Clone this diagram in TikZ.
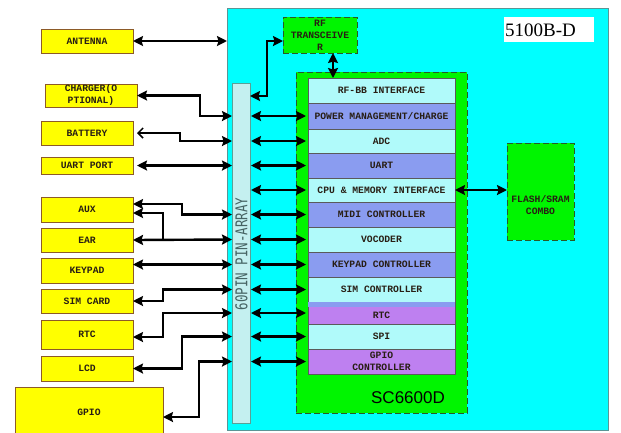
\documentclass[tikz,border=0pt]{standalone}
\usepackage{fontspec}
\setmainfont{Liberation Serif}
\newfontfamily\labfont{Liberation Mono}
\newfontfamily\pinfont{DejaVu Sans Mono}
\newfontfamily\scfont{Liberation Sans}
\usetikzlibrary{arrows.meta}
\definecolor{cyanbg}{RGB}{0,255,255}
\definecolor{cyanbd}{RGB}{90,150,150}
\definecolor{grn}{RGB}{0,245,0}
\definecolor{grnbd}{RGB}{40,90,40}
\definecolor{yel}{RGB}{255,255,0}
\definecolor{ybd}{RGB}{140,90,40}
\definecolor{ltc}{RGB}{176,250,250}
\definecolor{blu}{RGB}{138,156,240}
\definecolor{pur}{RGB}{190,128,240}
\definecolor{pinc}{RGB}{196,240,240}
\definecolor{pinbd}{RGB}{90,160,150}
\definecolor{rowbd}{RGB}{90,90,90}
\definecolor{txt}{RGB}{40,30,20}
\definecolor{pintxt}{RGB}{70,100,100}
\tikzset{
  lab/.style={font=\labfont\bfseries\fontsize{9.7}{12}\selectfont, text=txt, align=center},
  ybox/.style={lab, draw=ybd, fill=yel, line width=0.8pt, inner sep=0pt, outer sep=0pt},
  rowbox/.style={lab, draw=rowbd, line width=0.8pt, inner sep=0pt, outer sep=0pt, minimum width=147pt},
  gbox/.style={draw=grnbd, fill=grn, dashed, dash pattern=on 6pt off 3pt, line width=0.8pt, inner sep=0pt, outer sep=0pt},
  tipA/.tip={Stealth[length=10pt,width=10pt,inset=1.5pt]},
  arr/.style={line width=2.4pt, tipA-tipA},
  arrL/.style={line width=2.4pt, tipA-},
  arrB/.style={line width=2.4pt, {Straight Barb[length=5pt,width=10pt,line width=1.5pt]}-tipA}
}
\begin{document}
\begin{tikzpicture}[x=1pt,y=-1pt]
\useasboundingbox (0,0) rectangle (621,432);
\fill[white] (0,0) rectangle (621,432);
% main board
\node[draw=cyanbd, fill=cyanbg, line width=0.8pt, inner sep=0pt, outer sep=0pt, minimum width=381pt, minimum height=422pt] (board) at (417.5,219) {};
% pin array
\node[draw=pinbd, fill=pinc, line width=0.8pt, inner sep=0pt, outer sep=0pt, minimum width=18pt, minimum height=340pt] (pin) at (241,253) {};
\node[rotate=90, text=pintxt, font=\pinfont\fontsize{12.5}{14}\selectfont, inner sep=0pt] (pintext) at (241.5,254) {\scalebox{1}[1.3]{60PIN PIN-ARRAY}};
% SC6600D
\node[gbox, minimum width=171pt, minimum height=341pt] (sc) at (381.5,242.5) {};
\node[font=\scfont\fontsize{17}{20}\selectfont, inner sep=0pt] (sclabel) at (408,398) {SC6600D};
% rows
\node[rowbox, fill=ltc, minimum height=25pt] (rfbb) at (381.5,90.5) {RF-BB INTERFACE};
\node[rowbox, fill=blu, minimum height=26pt] (pwr) at (381.5,116) {POWER MANAGEMENT/CHARGE};
\node[rowbox, fill=ltc, minimum height=24pt] (adc) at (381.5,141) {ADC};
\node[rowbox, fill=blu, minimum height=25pt] (uart) at (381.5,165.5) {UART};
\node[rowbox, fill=ltc, minimum height=24pt] (cpu) at (381.5,190) {CPU \& MEMORY INTERFACE};
\node[rowbox, fill=blu, minimum height=25pt] (midi) at (381.5,214.5) {MIDI CONTROLLER};
\node[rowbox, fill=ltc, minimum height=25pt] (voc) at (381.5,239.5) {VOCODER};
\node[rowbox, fill=blu, minimum height=25pt] (keyc) at (381.5,264.5) {KEYPAD CONTROLLER};
\node[rowbox, fill=ltc, minimum height=25pt] (simc) at (381.5,289.5) {SIM CONTROLLER};
\node[rowbox, fill=pur, minimum height=22pt] (rtcc) at (381.5,313) {};
\fill[blu] ([xshift=0.4pt,yshift=-0.4pt]rtcc.north west) rectangle ([xshift=-0.4pt,yshift=-4.5pt]rtcc.north east);
\node[lab, inner sep=0pt] (rtct) at (381.5,315) {RTC};
\node[rowbox, fill=ltc, minimum height=25pt] (spi) at (381.5,336.5) {\raisebox{-3pt}{SPI}};
\node[rowbox, fill=pur, minimum height=25pt] (gpioc) at (381.5,361.5) {GPIO\\CONTROLLER};
% RF transceiver
\node[gbox, lab, minimum width=74pt, minimum height=36pt] (rf) at (320,35) {RF\\TRANSCEIVE\\R};
% flash
\node[gbox, lab, minimum width=67pt, minimum height=97pt, text height=46pt] (flash) at (540.5,191.5) {FLASH/SRAM\\COMBO};
% 5100B-D
\node[fill=white, inner sep=0pt, outer sep=0pt, minimum width=90pt, minimum height=25pt] (model) at (549,29.5) {};
\node[anchor=west, inner sep=0pt, font=\fontsize{19}{22}\selectfont] (modeltext) at ([xshift=1pt,yshift=-0.5pt]model.west) {5100B-D};
% left boxes
\node[ybox, minimum width=92pt, minimum height=24pt] (ant) at (87,41) {ANTENNA};
\node[ybox, minimum width=92pt, minimum height=23pt, text height=18pt] (chg) at (91,95.5) {CHARGER(O\\PTIONAL)};
\node[ybox, minimum width=92pt, minimum height=24pt] (bat) at (87,133) {BATTERY};
\node[ybox, minimum width=92pt, minimum height=17pt] (uartp) at (87,165.5) {UART PORT};
\node[ybox, minimum width=92pt, minimum height=25pt] (aux) at (87,209.5) {AUX};
\node[ybox, minimum width=92pt, minimum height=24pt] (ear) at (87,240) {EAR};
\node[ybox, minimum width=92pt, minimum height=25pt] (key) at (87,270.5) {KEYPAD};
\node[ybox, minimum width=92pt, minimum height=24pt] (sim) at (87,301) {SIM CARD};
\node[ybox, minimum width=92pt, minimum height=29pt] (rtc) at (87,334.5) {RTC};
\node[ybox, minimum width=92pt, minimum height=25pt] (lcd) at (87,368.5) {LCD};
\node[ybox, minimum width=148pt, minimum height=54pt] (gpio) at (89,414) {\raisebox{3pt}{GPIO}};
% left connectors
\draw[arr] (ant.east) -- (board.west |- ant.east);
\draw[arr] (chg.east) -| (200,116) -- (pin.west |- pwr.west);
\draw[arrB] ([xshift=4pt]bat.east) -| (180,141) -- (pin.west |- adc.west);
\draw[arr] ([xshift=4pt]uartp.east) -- (pin.west |- uart.west);
\draw[arr] ([yshift=5.5pt]aux.east) -| (182,214.5) -- (pin.west |- midi.west);
\draw[arrL] ([yshift=-3.5pt]aux.east) -| (163,240);
\draw[arr] (ear.east) -- (pin.west |- voc.west);
\draw[arr] ([yshift=6pt]key.east) -- (pin.west |- keyc.west);
\draw[arr] (sim.east) -| (163,289.5) -- (pin.west |- simc.west);
\draw[arr] ([yshift=-2.5pt]rtc.east) -| (163,313) -- (pin.west |- rtcc.west);
\draw[arr] (lcd.east) -| (182,336.5) -- (pin.west |- spi.west);
\draw[arr] ([yshift=-3pt]gpio.east) -| (199,361.5) -- (pin.west |- gpioc.west);
% pin to rows
\foreach \r in {pwr,adc,uart,cpu,midi,voc,keyc,simc,rtcc,spi,gpioc}
  \draw[arr] ([xshift=1pt]pin.east |- \r.west) -- ([xshift=-2pt]\r.west);
% RF links
\draw[arr] ([yshift=-13pt]pin.north east) -| (267,41) -- ([yshift=-6pt]rf.west);
\draw[arr] ([xshift=13pt]rf.south) -- ([xshift=13pt]rf.south |- rfbb.north);
\draw[arr] (cpu.east) -- (flash.west |- cpu.east);
\end{tikzpicture}
\end{document}
